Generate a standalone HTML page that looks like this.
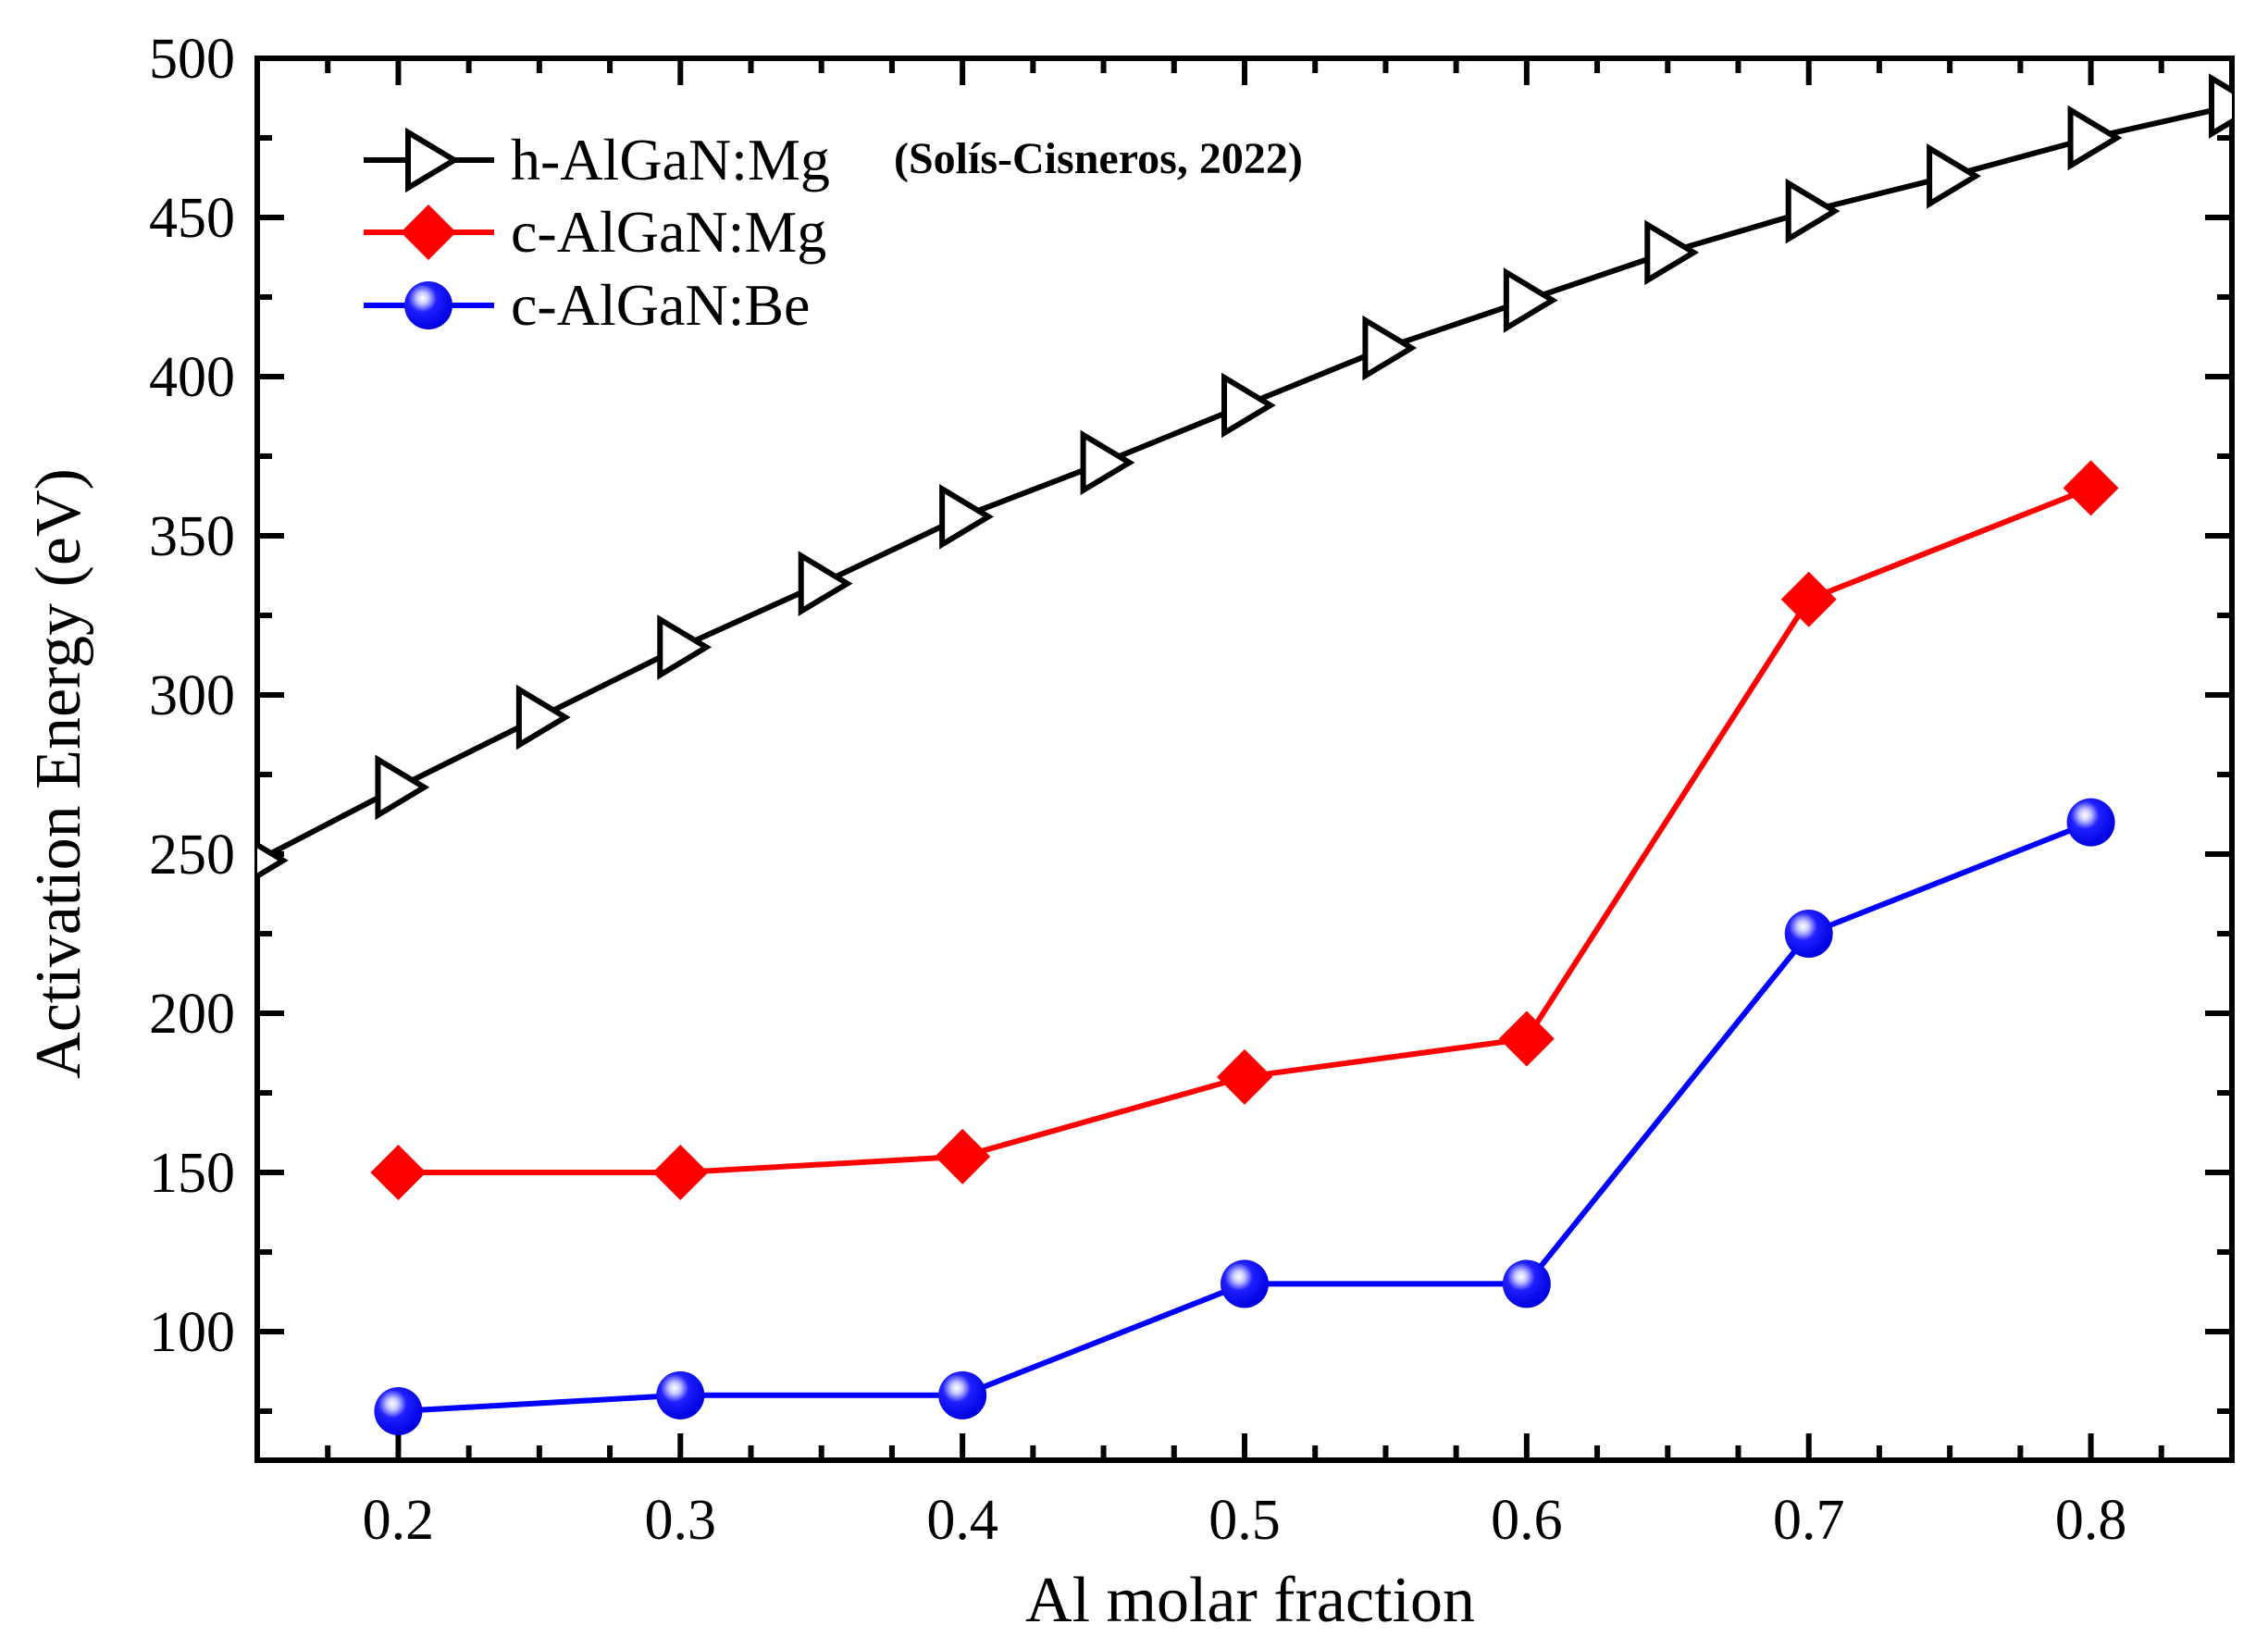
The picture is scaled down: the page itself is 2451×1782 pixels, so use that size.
<!DOCTYPE html>
<html><head><meta charset="utf-8"><style>
html,body{margin:0;padding:0;background:#fff;}
svg{display:block;}
text{font-family:"Liberation Serif",serif;fill:#000;}
</style></head><body>
<svg id="s" width="2451" height="1782" viewBox="0 0 2451 1782" xmlns="http://www.w3.org/2000/svg">
<defs>
<radialGradient id="bg" cx="0.38" cy="0.35" r="0.65">
<stop offset="0" stop-color="#ffffff"/>
<stop offset="0.18" stop-color="#c8c8ff"/>
<stop offset="0.45" stop-color="#2020ff"/>
<stop offset="1" stop-color="#0000e0"/>
</radialGradient>
</defs>
<g id="g"></g>
</svg>
<script>
var L=278,R=2412,T=63,B=1578,x0=0.15,x1=0.85,y0=59.6,y1=500;
function X(v){return L+(v-x0)/(x1-x0)*(R-L);}
function Y(v){return B-(v-y0)/(y1-y0)*(B-T);}
var h='';
for(var i=0;i<=28;i++){var v=0.15+i*0.025;var x=X(v);var maj=Math.abs((v*10)-Math.round(v*10))<1e-6;var len=maj?29:16;
h+='<line x1="'+x+'" y1="'+B+'" x2="'+x+'" y2="'+(B-len)+'" stroke="#000" stroke-width="6"/>';
h+='<line x1="'+x+'" y1="'+T+'" x2="'+x+'" y2="'+(T+len)+'" stroke="#000" stroke-width="6"/>';
if(maj&&v>0.19&&v<0.81)h+='<text x="'+x+'" y="'+(B+85)+'" font-size="62" text-anchor="middle">'+v.toFixed(1)+'</text>';}
for(var v=75;v<=500;v+=25){var y=Y(v);var maj=v%50==0;var len=maj?29:16;
h+='<line x1="'+L+'" y1="'+y+'" x2="'+(L+len)+'" y2="'+y+'" stroke="#000" stroke-width="6"/>';
h+='<line x1="'+R+'" y1="'+y+'" x2="'+(R-len)+'" y2="'+y+'" stroke="#000" stroke-width="6"/>';
if(maj)h+='<text x="'+(L-24)+'" y="'+(y+21)+'" font-size="62" text-anchor="end">'+v+'</text>';}
h+='<rect x="'+L+'" y="'+T+'" width="'+(R-L)+'" height="'+(B-T)+'" fill="none" stroke="#000" stroke-width="6"/>';
h+='<text x="1351" y="1752" font-size="70" text-anchor="middle">Al molar fraction</text>';
h+='<text transform="translate(86,836) rotate(-90)" font-size="70" text-anchor="middle">Activation Energy (eV)</text>';
var hx=[],hv=[248,271,293,315,335,356,373,391,409,424,439,452,463,475,485];
for(var i=0;i<15;i++)hx.push(0.15+i*0.05);
var xs=[0.2,0.3,0.4,0.5,0.6,0.7,0.8];
var rv=[150,150,155,180,192,330,365],bv=[75,80,80,115,115,225,260];
function pl(xa,ya,c){var p=[];for(var i=0;i<xa.length;i++)p.push(X(xa[i]).toFixed(1)+','+Y(ya[i]).toFixed(1));return '<polyline points="'+p.join(' ')+'" fill="none" stroke="'+c+'" stroke-width="6"/>';}
h+=pl(hx,hv,'#000');h+=pl(xs,rv,'#f00');h+=pl(xs,bv,'#00f');
function tri(x,y){return '<polygon points="'+(x-22)+','+(y-30)+' '+(x+28)+','+y+' '+(x-22)+','+(y+30)+'" fill="#fff" stroke="#000" stroke-width="6" stroke-linejoin="miter"/>';}
function dia(x,y){return '<polygon points="'+x+','+(y-30)+' '+(x+30)+','+y+' '+x+','+(y+30)+' '+(x-30)+','+y+'" fill="#f00"/>';}
function cir(x,y){return '<circle cx="'+x+'" cy="'+y+'" r="26" fill="url(#bg)"/>';}
h+='<clipPath id="cp"><rect x="'+L+'" y="'+T+'" width="'+(R-L)+'" height="'+(B-T)+'"/></clipPath><g clip-path="url(#cp)">';
for(var i=0;i<15;i++)h+=tri(X(hx[i]),Y(hv[i]));
h+='</g>';
for(var i=0;i<7;i++)h+=dia(X(xs[i]),Y(rv[i]));
for(var i=0;i<7;i++)h+=cir(X(xs[i]),Y(bv[i]));
h+='<line x1="393" y1="173" x2="534" y2="173" stroke="#000" stroke-width="6"/>'+tri(463,173);
h+='<line x1="393" y1="251" x2="534" y2="251" stroke="#f00" stroke-width="6"/>'+dia(463,251);
h+='<line x1="393" y1="330" x2="534" y2="330" stroke="#00f" stroke-width="6"/>'+cir(463,330);
h+='<text x="552" y="194" font-size="64">h-AlGaN:Mg</text>';
h+='<text x="552" y="272" font-size="64">c-AlGaN:Mg</text>';
h+='<text x="552" y="351" font-size="64">c-AlGaN:Be</text>';
h+='<text x="966" y="187" font-size="48" font-weight="bold">(Solís-Cisneros, 2022)</text>';
document.getElementById('g').innerHTML=h;
</script>
</body></html>
